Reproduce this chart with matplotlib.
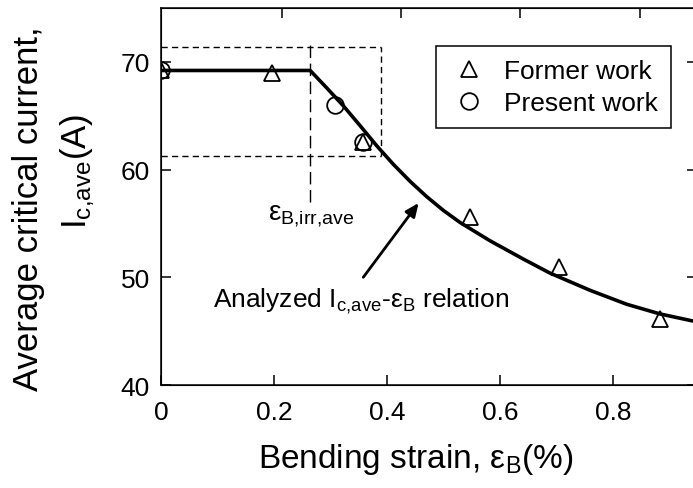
import matplotlib
matplotlib.use("Agg")
import matplotlib.pyplot as plt

plt.rcParams['font.family'] = ['Liberation Sans', 'DejaVu Sans']
plt.rcParams['mathtext.fontset'] = 'custom'
plt.rcParams['mathtext.rm'] = 'Liberation Sans'
plt.rcParams['mathtext.it'] = 'Liberation Sans:italic'
plt.rcParams['mathtext.bf'] = 'Liberation Sans:bold'

# data
former_strain = [0.0, 0.197, 0.358, 0.547, 0.704, 0.883]
former_ic = [69.2, 69.0, 62.6, 55.6, 51.0, 46.1]
present_strain = [0.0, 0.308, 0.358]
present_ic = [69.2, 65.95, 62.6]

fit_strain = [0.0, 0.264, 0.293, 0.323, 0.352, 0.382, 0.411, 0.441, 0.470, 0.500,
              0.529, 0.582, 0.641, 0.688, 0.759, 0.824, 0.883, 0.945]
fit_ic = [69.2, 69.2, 67.6, 65.9, 64.1, 62.2, 60.5, 58.9, 57.5, 56.2,
          55.1, 53.4, 51.7, 50.4, 48.8, 47.5, 46.6, 45.9]

irr_strain = 0.264
irr_ic_hi = 71.35
irr_ic_lo = 61.3
irr_strain_hi = 0.39

fig = plt.figure(figsize=(6.93, 4.89), dpi=100)
ax = fig.add_axes([161/693, 1 - 386/489, (697-161)/693, (386-9)/489])

ax.plot(fit_strain, fit_ic, color='black', lw=2.6, zorder=3)
ax.plot(former_strain, former_ic, linestyle='none', marker='^', ms=12,
        mfc='none', mec='black', mew=1.3, label='Former work', zorder=4)
ax.plot(present_strain, present_ic, linestyle='none', marker='o', ms=12,
        mfc='none', mec='black', mew=1.3, label='Present work', zorder=4)

# guide lines
dash_s = (4.5, 3)
ax.plot([0, irr_strain_hi], [irr_ic_hi, irr_ic_hi], color='black', lw=1.0, dashes=dash_s)
ax.plot([0, irr_strain_hi], [irr_ic_lo, irr_ic_lo], color='black', lw=1.0, dashes=dash_s)
ax.plot([irr_strain_hi, irr_strain_hi], [irr_ic_lo, irr_ic_hi], color='black', lw=1.0, dashes=dash_s)
ax.plot([irr_strain, irr_strain], [57.0, 71.6], color='black', lw=1.0, dashes=(9, 4))

ax.text(0.189, 55.44, r'$\mathrm{ε_{B{,}irr{,}ave}}$', fontsize=20, va='baseline', ha='left')
ax.text(0.092, 47.26, r'Analyzed $\mathrm{I_{c{,}ave}}$-$\mathrm{ε_B}$ relation',
        fontsize=19, va='baseline', ha='left')
ax.annotate('', xy=(0.456, 56.9), xytext=(0.358, 50.0),
            arrowprops=dict(arrowstyle='-|>,head_length=0.8,head_width=0.35',
                            color='black', lw=2, shrinkA=0, shrinkB=0))

ax.set_xlim(0, 0.9487)
ax.set_ylim(40, 75)
ax.set_xticks([0, 0.2, 0.4, 0.6, 0.8])
ax.set_xticklabels(['0', '0.2', '0.4', '0.6', '0.8'])
ax.set_yticks([40, 50, 60, 70])
ax.tick_params(direction='in', length=7, width=1.1, labelsize=19,
               right=True, top=False)
ax.tick_params(axis='x', pad=11)
ax.tick_params(axis='y', pad=8)
for s in ax.spines.values():
    s.set_linewidth(1.1)

ax2 = ax.twiny()
ax2.set_xlim(ax.get_xlim())
ax2.set_xticks([0.214, 0.425, 0.636, 0.848])
ax2.tick_params(direction='in', length=7, width=1.1, labeltop=False)

ax.set_xlabel(r'Bending strain, $\mathrm{ε_B}$(%)', fontsize=24, labelpad=12)
ax.xaxis.label.set_x((416 - 161) / 536)

fig.text(29/693, 1 - 209/489, 'Average critical current,', fontsize=25,
         rotation=90, ha='center', va='center')
fig.text(78/693, 1 - 171/489, r'$\mathrm{I_{c{,}ave}}$(A)', fontsize=25,
         rotation=90, ha='center', va='center')

leg = ax.legend(loc='upper left', bbox_to_anchor=(275/536, 0.899), fontsize=19,
                frameon=True, fancybox=False, edgecolor='black', framealpha=1,
                handlelength=1.5, handletextpad=0.58, borderpad=0.5,
                labelspacing=0.3, borderaxespad=0)
leg.get_frame().set_linewidth(1.1)

fig.savefig('out.png', dpi=100)
